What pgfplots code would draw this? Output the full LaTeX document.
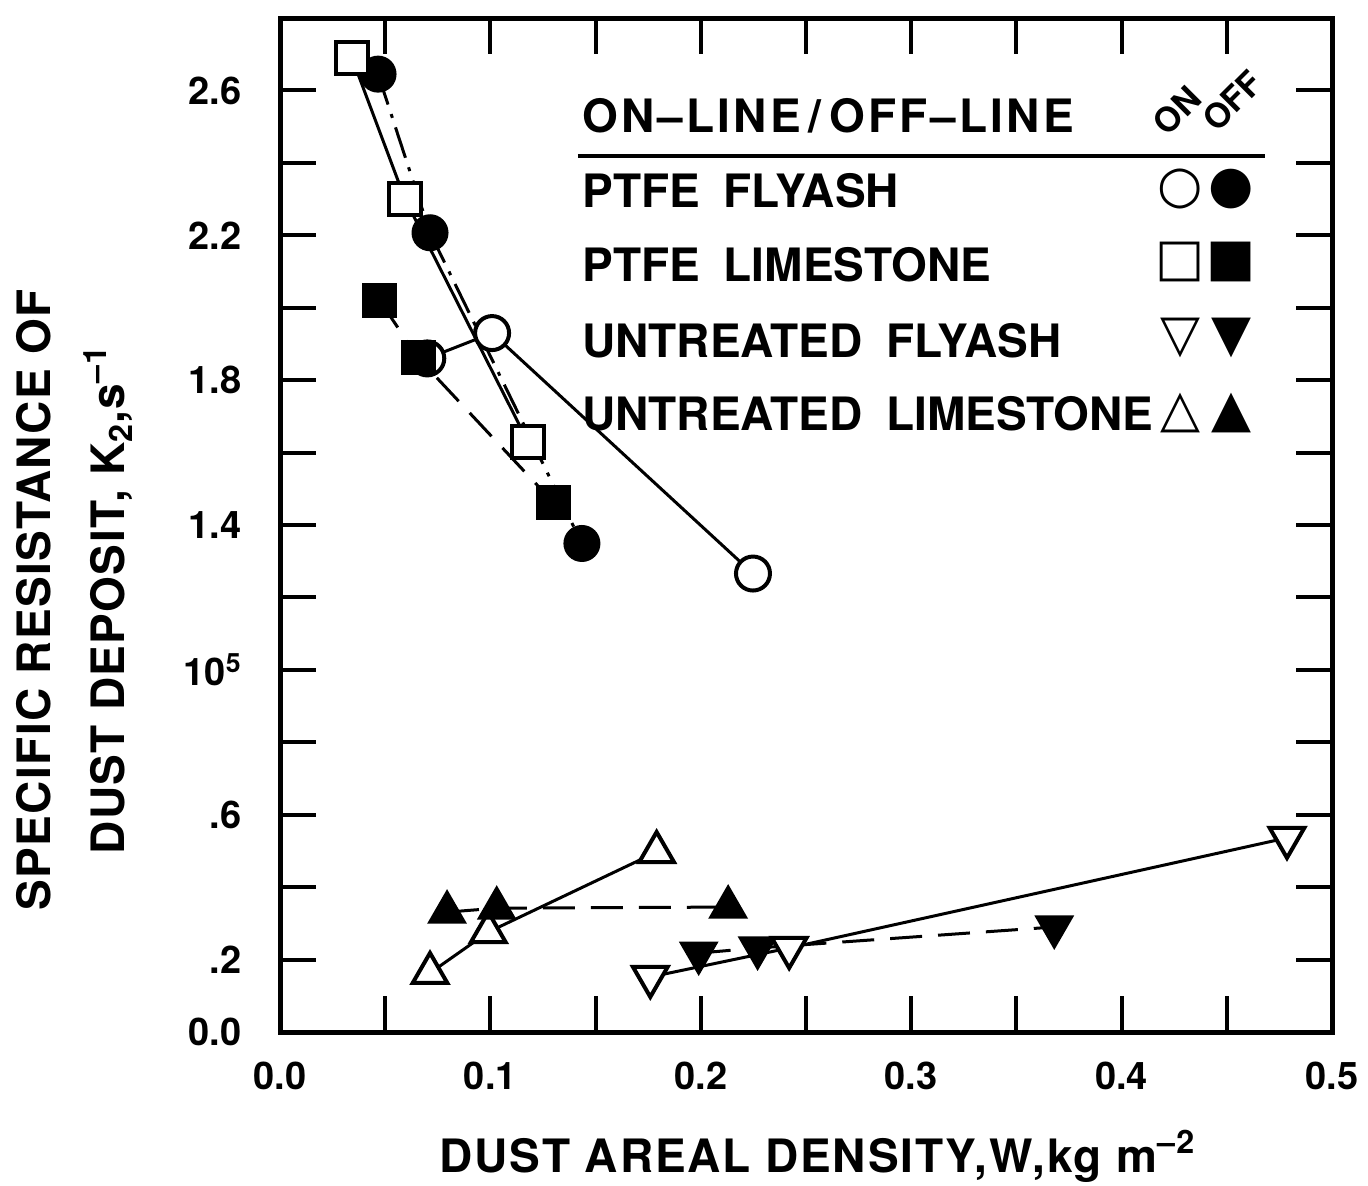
\documentclass[border=0pt]{standalone}
\usepackage{fontspec}
\setmainfont{TeX Gyre Heros}
\newfontfamily\symfont{DejaVu Sans}
\newfontfamily\lsHead[LetterSpace=7]{TeX Gyre Heros}
\newfontfamily\lsLab[LetterSpace=4]{TeX Gyre Heros}
\newfontfamily\lsYLab[LetterSpace=3]{TeX Gyre Heros}
\usepackage{pgfplots}
\pgfplotsset{compat=1.18}
\newcommand{\wsp}{\hspace{12pt}}
\tikzset{
  legrow/.style={anchor=base west, inner sep=0pt, font=\fontsize{23}{23}\selectfont\bfseries},
  legsym/.style={inner sep=0pt, font=\symfont\fontsize{26}{26}\selectfont},
}

\begin{document}
\begin{tikzpicture}
\begin{axis}[
  set layers, mark layer=axis foreground,
  scale only axis, width=526pt, height=507pt,
  xmin=0, xmax=0.5, ymin=0, ymax=2.8,
  clip=false,
  axis line style={line width=2.5pt, line join=miter},
  tick align=inside, major tick length=18pt,
  tick style={line width=2pt, black},
  xtick={0,0.05,0.1,0.15,0.2,0.25,0.3,0.35,0.4,0.45,0.5},
  xticklabels={0.0,,0.1,,0.2,,0.3,,0.4,,0.5},
  ytick={0,0.2,0.4,0.6,0.8,1.0,1.2,1.4,1.6,1.8,2.0,2.2,2.4,2.6},
  yticklabels={0.0,.2,,.6,,10\textsuperscript{5},,1.4,,1.8,,2.2,,2.6},
  tick label style={font=\fontsize{19}{19}\selectfont\bfseries},
  xticklabel style={inner sep=0pt, anchor=north, yshift=-15pt},
  yticklabel style={inner sep=0pt, anchor=east, xshift=-19pt},
  every axis plot/.append style={line width=1.5pt, black},
]
% PTFE flyash ON
\addplot[mark=*, mark size=8.5pt, mark options={solid, fill=white, line width=2pt}]
  coordinates {(0.0700,1.86) (0.1008,1.93) (0.2248,1.266)};
% PTFE flyash OFF
\addplot[dash pattern=on 16pt off 5pt on 2pt off 5pt, mark=*, mark size=8.5pt, mark options={solid, fill=black}]
  coordinates {(0.0466,2.645) (0.0713,2.207) (0.1435,1.349)};
% PTFE limestone ON
\addplot[mark=square*, mark size=8pt, mark options={solid, fill=white, line width=2pt}]
  coordinates {(0.0342,2.69) (0.0594,2.30) (0.118,1.628)};
% PTFE limestone OFF
\addplot[dash pattern=on 16pt off 8pt, mark=square*, mark size=8pt, mark options={solid, fill=black}]
  coordinates {(0.0475,2.019) (0.0656,1.862) (0.130,1.462)};
% Untreated flyash ON
\addplot[mark=triangle*, mark size=10pt, mark options={solid, fill=white, rotate=180, line width=2pt}]
  coordinates {(0.176,0.152) (0.242,0.232) (0.4786,0.536)};
% Untreated flyash OFF
\addplot[dash pattern=on 16pt off 8pt, mark=triangle*, mark size=10pt, mark options={solid, fill=black, rotate=180}]
  coordinates {(0.199,0.218) (0.227,0.232) (0.368,0.29)};
% Untreated limestone ON
\addplot[mark=triangle*, mark size=10pt, mark options={solid, fill=white, line width=2pt}]
  coordinates {(0.0713,0.163) (0.099,0.276) (0.179,0.497)};
% Untreated limestone OFF
\addplot[dash pattern=on 16pt off 8pt, mark=triangle*, mark size=10pt, mark options={solid, fill=black}]
  coordinates {(0.0794,0.331) (0.103,0.342) (0.213,0.345)};

% legend block
\node[anchor=base west, inner sep=0pt, font=\lsHead\fontsize{23}{23}\selectfont\bfseries] at (axis cs:0.1435,2.483) {ON\textendash LINE\,/\,OFF\textendash LINE};
\draw[line width=2pt] (axis cs:0.1416,2.419) -- (axis cs:0.468,2.419);
\node[legrow] at (axis cs:0.1435,2.277) {PTFE\wsp FLYASH};
\node[legrow] at (axis cs:0.1435,2.072) {PTFE\wsp LIMESTONE};
\node[legrow] at (axis cs:0.1435,1.863) {UNTREATED\wsp FLYASH};
\node[legrow] at (axis cs:0.1435,1.662) {UNTREATED\wsp LIMESTONE};
\node[rotate=45, anchor=base west, inner sep=0pt, font=\fontsize{17}{17}\selectfont\bfseries] at (axis cs:0.4216,2.469) {ON};
\node[rotate=45, anchor=base west, inner sep=0pt, font=\fontsize{17}{17}\selectfont\bfseries] at (axis cs:0.4453,2.480) {OFF};
\node[legsym] at (axis cs:0.4278,2.328) {○};
\node[legsym] at (axis cs:0.452,2.328) {●};
\node[legsym] at (axis cs:0.4278,2.127) {□};
\node[legsym] at (axis cs:0.452,2.127) {■};
\node[legsym] at (axis cs:0.4278,1.917) {▽};
\node[legsym] at (axis cs:0.452,1.917) {▼};
\node[legsym] at (axis cs:0.4278,1.708) {△};
\node[legsym] at (axis cs:0.452,1.708) {▲};

% axis labels
\node[anchor=base, inner sep=0pt, font=\lsLab\fontsize{23}{23}\selectfont\bfseries] at (axis cs:0.2555,-0.3866) {DUST AREAL DENSITY,W,kg m\textsuperscript{\textendash 2}};
\node[rotate=90, anchor=base, inner sep=0pt, font=\lsYLab\fontsize{23}{23}\selectfont\bfseries] at (axis cs:-0.1093,1.193) {SPECIFIC RESISTANCE OF};
\node[rotate=90, anchor=base, inner sep=0pt, font=\lsYLab\fontsize{23}{23}\selectfont\bfseries] at (axis cs:-0.0737,1.193) {DUST DEPOSIT, K\textsubscript{2},s\textsuperscript{\textendash 1}};
\end{axis}
\pgfresetboundingbox
\path[use as bounding box] (-140pt,-76.5pt) rectangle (544pt,516pt);
\end{tikzpicture}
\end{document}
